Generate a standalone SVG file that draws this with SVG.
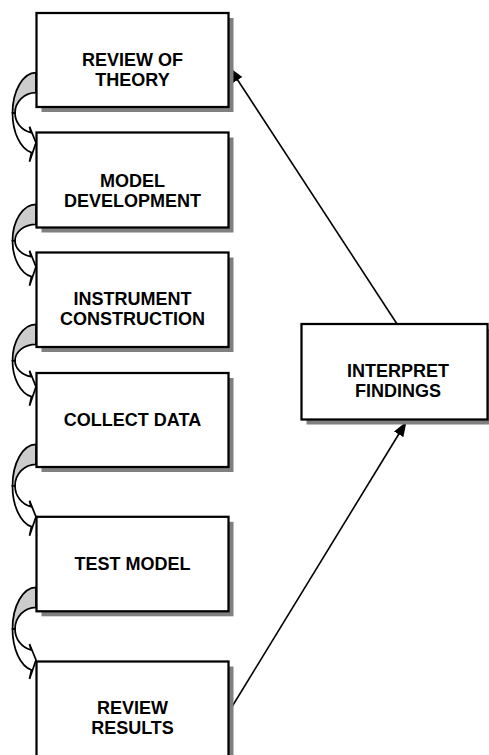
<svg xmlns="http://www.w3.org/2000/svg" width="489" height="755" viewBox="0 0 489 755">
<style>
.shadow{fill:#808080;stroke:none}
.box{fill:#ffffff;stroke:#000000;stroke-width:2.25}
.t{font-family:"Liberation Sans",Arial,sans-serif;font-weight:bold;font-size:18px;text-anchor:middle;fill:#000000}
.back{fill:#cccccc;stroke:#000000;stroke-width:1.75;stroke-linejoin:round}
.front{fill:#ffffff;stroke:#000000;stroke-width:1.75;stroke-linejoin:miter}
.line{fill:none;stroke:#000000;stroke-width:1.6}
</style>
<defs>
<marker id="ah" markerUnits="userSpaceOnUse" markerWidth="16" markerHeight="12" refX="15" refY="5.5" orient="auto">
<path d="M0,0 L15,5.5 L0,11 Z" fill="#000000"/>
</marker>
</defs>
<rect width="489" height="755" fill="#ffffff"/>
<g id="connectors">
<g id="curve1">
<path class="back" d="M36,72.7 A23.5,40.37 0 0 0 12.5,113.07 L15,112.99 A21,20.29 0 0 1 36,92.7 Z"/>
<path class="front" d="M12.5,113.07 A23.5,40.37 0 0 0 31.5,152.7 L29.5,161.7 L36,142.7 L29.5,126.7 L31,132.7 A21,20.29 0 0 1 15,112.99 Z"/>
</g>
<g id="curve2">
<path class="back" d="M36,204.3 A23.5,36.54 0 0 0 12.5,240.84 L15,240.74 A21,16.44 0 0 1 36,224.3 Z"/>
<path class="front" d="M12.5,240.84 A23.5,36.54 0 0 0 31.5,276.7 L29.5,285.7 L36,266.7 L29.5,250.7 L31,256.7 A21,16.44 0 0 1 15,240.74 Z"/>
</g>
<g id="curve3">
<path class="back" d="M36,324.3 A23.5,36.54 0 0 0 12.5,360.84 L15,360.74 A21,16.44 0 0 1 36,344.3 Z"/>
<path class="front" d="M12.5,360.84 A23.5,36.54 0 0 0 31.5,396.7 L29.5,405.7 L36,386.7 L29.5,370.7 L31,376.7 A21,16.44 0 0 1 15,360.74 Z"/>
</g>
<g id="curve4">
<path class="back" d="M36,444.3 A23.5,41.58 0 0 0 12.5,485.88 L15,485.81 A21,21.51 0 0 1 36,464.3 Z"/>
<path class="front" d="M12.5,485.88 A23.5,41.58 0 0 0 31.5,526.7 L29.5,535.7 L36,516.7 L29.5,500.7 L31,506.7 A21,21.51 0 0 1 15,485.81 Z"/>
</g>
<g id="curve5">
<path class="back" d="M36,587.3 A23.5,41.74 0 0 0 12.5,629.04 L15,628.96 A21,21.66 0 0 1 36,607.3 Z"/>
<path class="front" d="M12.5,629.04 A23.5,41.74 0 0 0 31.5,670 L29.5,679 L36,660 L29.5,644 L31,650 A21,21.66 0 0 1 15,628.96 Z"/>
</g>
<line class="line" x1="396.7" y1="323.5" x2="229.5" y2="67.5" marker-end="url(#ah)"/>
<line class="line" x1="230" y1="710" x2="406.5" y2="421.5" marker-end="url(#ah)"/>
</g>
<g id="review-theory">
<rect class="shadow" x="41.5" y="18" width="192" height="94"/>
<rect class="box" x="36.5" y="13" width="192" height="94"/>
<text class="t" x="132.5" y="66">REVIEW OF</text>
<text class="t" x="132.5" y="86">THEORY</text>
</g>
<g id="model-development">
<rect class="shadow" x="41.5" y="137.5" width="192" height="95"/>
<rect class="box" x="36.5" y="132.5" width="192" height="95"/>
<text class="t" x="132.5" y="186.5">MODEL</text>
<text class="t" x="132.5" y="206.5">DEVELOPMENT</text>
</g>
<g id="instrument-construction">
<rect class="shadow" x="41.5" y="257.5" width="192" height="94.5"/>
<rect class="box" x="36.5" y="252.5" width="192" height="94.5"/>
<text class="t" x="132.5" y="305">INSTRUMENT</text>
<text class="t" x="132.5" y="325">CONSTRUCTION</text>
</g>
<g id="collect-data">
<rect class="shadow" x="41.5" y="378" width="192" height="94"/>
<rect class="box" x="36.5" y="373" width="192" height="94"/>
<text class="t" x="132.5" y="425.5">COLLECT DATA</text>
</g>
<g id="test-model">
<rect class="shadow" x="41.5" y="521.8" width="192" height="94.5"/>
<rect class="box" x="36.5" y="516.8" width="192" height="94.5"/>
<text class="t" x="132.5" y="569.5">TEST MODEL</text>
</g>
<g id="review-results">
<rect class="shadow" x="41.5" y="666.5" width="192" height="96"/>
<rect class="box" x="36.5" y="661.5" width="192" height="96"/>
<text class="t" x="132.5" y="713.5">REVIEW</text>
<text class="t" x="132.5" y="733.5">RESULTS</text>
</g>
<g id="interpret-findings">
<rect class="shadow" x="306.5" y="329" width="186" height="95.5"/>
<rect class="box" x="301.5" y="324" width="186" height="95.5"/>
<text class="t" x="398" y="377">INTERPRET</text>
<text class="t" x="398" y="397">FINDINGS</text>
</g>
</svg>
